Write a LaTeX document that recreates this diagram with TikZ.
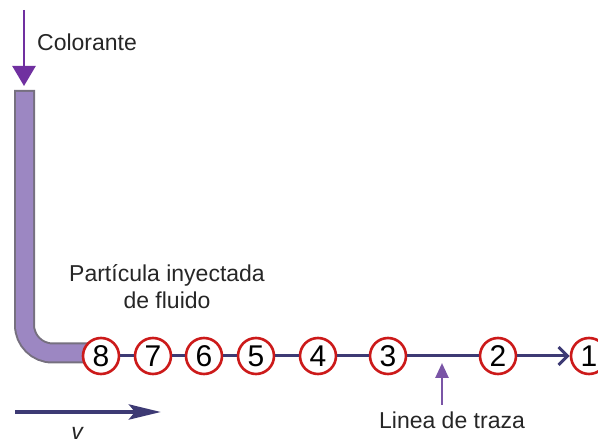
\documentclass[tikz,border=0pt]{standalone}
\usepackage{fontspec}
\setmainfont{Liberation Sans}
\usetikzlibrary{arrows.meta}
\definecolor{navy}{HTML}{3D3A74}
\definecolor{dye}{HTML}{7030A0}
\definecolor{tubefill}{HTML}{9C87C2}
\definecolor{tubeedge}{HTML}{76707F}
\definecolor{ringred}{HTML}{CC1A1A}
\definecolor{uparrow}{HTML}{7A55A6}
\begin{document}
\begin{tikzpicture}[x=1pt,y=-1pt,
  particle/.style={circle,draw=ringred,line width=2.6pt,fill=white,minimum size=36pt,inner sep=0pt,font=\fontsize{30}{30}\selectfont},
  lbl/.style={font=\fontsize{23}{27}\selectfont,inner sep=0pt,text=black!85},
  trace/.style={draw=navy,line width=3pt}]
\useasboundingbox (0,0) rectangle (598,446);
% tube
\draw[tubeedge,line width=21pt,rounded corners=28pt] (24.5,90) -- (24.5,353) -- (100,353);
\draw[tubefill,line width=17pt,rounded corners=28pt] (24.5,92) -- (24.5,353) -- (100,353);
% dye arrow
\coordinate (dtop) at (24,10);
\coordinate (dtip) at (24,86);
\draw[dye,line width=2.5pt,-{Triangle[length=20pt,width=23pt]}] (dtop) -- (dtip);
\node[lbl,anchor=west] (col) at (37,42) {Colorante};
% particles
\node[particle] (c8) at (101,356) {8};
\node[particle] (c7) at (153,356) {7};
\node[particle] (c6) at (204,356) {6};
\node[particle] (c5) at (256,356) {5};
\node[particle] (c4) at (318,356) {4};
\node[particle] (c3) at (388,356) {3};
\node[particle] (c2) at (498,356) {2};
\node[particle] (c1) at (589,356) {1};
\draw[trace] (c8) -- (c7);
\draw[trace] (c7) -- (c6);
\draw[trace] (c6) -- (c5);
\draw[trace] (c5) -- (c4);
\draw[trace] (c4) -- (c3);
\draw[trace] (c3) -- (c2);
\draw[trace,-{Straight Barb[length=9pt,width=18pt,line width=3pt]}] (c2) -- (c1);
% labels
\node[lbl,align=center] (part) at (167,287) {Partícula inyectada\\de fluido};
\node[lbl] (traza) at (452,420) {Linea de traza};
\coordinate (ubot) at (442,405);
\coordinate (utip) at (442,363);
\draw[uparrow,line width=2.6pt,-{Triangle[length=15pt,width=13pt]}] (ubot) -- (utip);
% velocity
\coordinate (vs) at (15,412);
\coordinate (ve) at (161,412);
\draw[navy,line width=4.5pt,-{Stealth[length=32pt,width=15pt,inset=6pt]}] (vs) -- (ve);
\node[lbl,font=\fontsize{23}{23}\selectfont\itshape] (v) at (77,433) {v};
\end{tikzpicture}
\end{document}
